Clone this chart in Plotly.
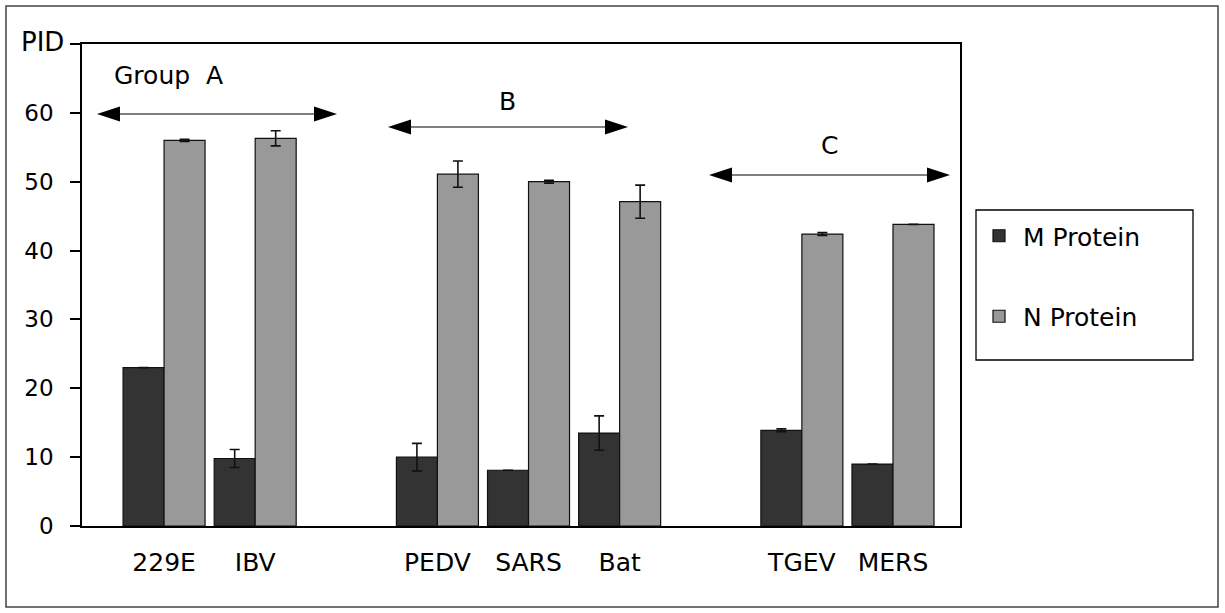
import plotly.graph_objects as go

# ---------------- data ----------------
categories = ["229E", "IBV", " ", "PEDV", "SARS", "Bat", "  ", "TGEV", "MERS"]
m_protein = [23.0, 9.8, None, 10.0, 8.1, 13.5, None, 13.9, 9.0]
m_error = [None, 1.3, None, 2.0, None, 2.5, None, 0.2, None]
n_protein = [56.0, 56.3, None, 51.1, 50.0, 47.1, None, 42.4, 43.8]
n_error = [0.15, 1.1, None, 1.9, 0.2, 2.4, None, 0.2, None]
y_tick_values = [0, 10, 20, 30, 40, 50, 60, 70]
y_tick_labels = ["0", "10", "20", "30", "40", "50", "60", ""]
series_names = ["M Protein", "N Protein"]
group_labels = ["Group  A", "B", "C"]

# ---------------- layout geometry (pixels) ----------------
W, H = 1225, 613
L, R, T, B = 82, 960, 44, 526          # plot area edges
PW, PH = R - L, B - T

def px(x):
    return (x - L) / PW

def py(y):
    return (B - y) / PH

FONT = "DejaVu Sans"
M_COLOR = "#333333"
N_COLOR = "#999999"

fig = go.Figure()
fig.add_trace(go.Bar(
    name=series_names[0], x=categories, y=m_protein,
    marker=dict(color=M_COLOR, line=dict(color="#111111", width=1.2)),
    error_y=dict(type="data", array=m_error, visible=True, color="#111111",
                 thickness=1.6, width=5),
    legendgroup="m",
))
fig.add_trace(go.Bar(
    name=series_names[1], x=categories, y=n_protein,
    marker=dict(color=N_COLOR, line=dict(color="#111111", width=1.2)),
    error_y=dict(type="data", array=n_error, visible=True, color="#111111",
                 thickness=1.6, width=5),
    legendgroup="n",
))

shapes = []
# outer frame
shapes.append(dict(type="rect", xref="paper", yref="paper",
                   x0=px(6), x1=px(1218), y0=py(607), y1=py(6),
                   line=dict(color="#444444", width=1.5), layer="below"))
# legend box
shapes.append(dict(type="rect", xref="paper", yref="paper",
                   x0=px(976), x1=px(1193), y0=py(360), y1=py(210),
                   line=dict(color="black", width=1.3), layer="above"))

# group arrows: (x_left, x_right, y)
arrows = [(97, 337, 114), (388, 628, 127), (709, 950, 175)]
HL, HH = 23, 7.5
for x0, x1, yy in arrows:
    shapes.append(dict(type="line", xref="paper", yref="paper",
                       x0=px(x0 + 10), x1=px(x1 - 10), y0=py(yy), y1=py(yy),
                       line=dict(color="#555555", width=1.5)))
    shapes.append(dict(type="path", xref="paper", yref="paper",
                       path=f"M {px(x0)} {py(yy)} L {px(x0 + HL)} {py(yy - HH)} L {px(x0 + HL)} {py(yy + HH)} Z",
                       fillcolor="black", line=dict(color="black", width=0)))
    shapes.append(dict(type="path", xref="paper", yref="paper",
                       path=f"M {px(x1)} {py(yy)} L {px(x1 - HL)} {py(yy - HH)} L {px(x1 - HL)} {py(yy + HH)} Z",
                       fillcolor="black", line=dict(color="black", width=0)))

annotations = [
    dict(text=group_labels[0], x=px(112), y=py(75), xanchor="left", yanchor="middle"),
    dict(text=group_labels[1], x=px(507), y=py(101), xanchor="center", yanchor="middle"),
    dict(text=group_labels[2], x=px(829), y=py(145), xanchor="center", yanchor="middle"),
    dict(text="PID", x=px(66), y=py(42), xanchor="right", yanchor="middle",
         font=dict(family=FONT, size=26, color="black")),
]
for a in annotations:
    a.update(xref="paper", yref="paper", showarrow=False)
    a.setdefault("font", dict(family=FONT, size=25, color="black"))

fig.update_layout(
    width=W, height=H,
    margin=dict(l=L, r=W - R, t=T, b=H - B, autoexpand=False),
    paper_bgcolor="white", plot_bgcolor="white",
    barmode="group", bargap=0.1, bargroupgap=0,
    font=dict(family=FONT, size=24, color="black"),
    showlegend=True,
    legend=dict(
        x=px(975), y=py(213), xanchor="left", yanchor="top",
        borderwidth=0, bgcolor="rgba(0,0,0,0)",
        font=dict(family=FONT, size=25, color="black"),
        traceorder="grouped", tracegroupgap=45, itemwidth=38,
    ),
    shapes=shapes,
    annotations=annotations,
)

fig.update_xaxes(
    type="category", categoryorder="array", categoryarray=categories,
    range=[-0.9007, 8.7355],
    showline=True, linecolor="black", linewidth=1.5, mirror=True,
    ticks="", showgrid=False, zeroline=False,
    tickfont=dict(family=FONT, size=25, color="black"),
    ticklabelstandoff=13,
)
fig.update_yaxes(
    range=[0, 70], tickvals=y_tick_values, ticktext=y_tick_labels,
    showline=True, linecolor="black", linewidth=1.5, mirror=True,
    ticks="outside", ticklen=10, tickwidth=1.5, tickcolor="black",
    showgrid=False, zeroline=False,
    tickfont=dict(family=FONT, size=23, color="black"),
    ticklabelstandoff=12,
)

fig.write_html("out.html")
